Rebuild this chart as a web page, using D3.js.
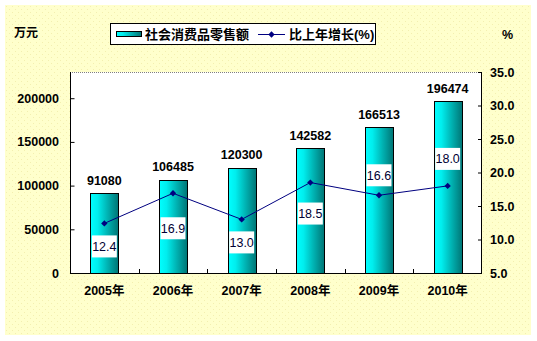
<!DOCTYPE html>
<html>
<head>
<meta charset="utf-8">
<script src="https://cdn.jsdelivr.net/npm/d3@7"></script>
<style>
  html, body { margin: 0; padding: 0; background: #ffffff; }
  svg { display: block; }
  text { font-family: "Liberation Sans", Arial, "Noto Sans CJK SC", sans-serif; }
</style>
</head>
<body>
<svg id="chart" width="537" height="341"></svg>
<script>
// Retail sales of consumer goods (万元) and year-on-year growth (%)
const years = ["2005年", "2006年", "2007年", "2008年", "2009年", "2010年"];
const sales = [91080, 106485, 120300, 142582, 166513, 196474];
const growth = [12.4, 16.9, 13.0, 18.5, 16.6, 18.0];
const leftTicks = [0, 50000, 100000, 150000, 200000];
const rightTicks = [5, 10, 15, 20, 25, 30, 35];
const seriesNames = ["社会消费品零售额", "比上年增长(%)"];
// vertical shift of each growth label box relative to its point
const labelDy = [23, 35, 23, 31, -20, -27];

const svg = d3.select("#chart");
const plot = { left: 70, right: 482, top: 72, bottom: 273 };
const BOLD = "bold";

const defs = svg.append("defs");

// dotted pale-yellow backdrop
const pat = defs.append("pattern").attr("id", "dots")
  .attr("width", 6).attr("height", 6).attr("patternUnits", "userSpaceOnUse");
pat.append("rect").attr("width", 6).attr("height", 6).attr("fill", "#ffffcc");
pat.append("rect").attr("x", 0).attr("y", 0).attr("width", 1).attr("height", 1).attr("fill", "#f3efb0");
pat.append("rect").attr("x", 3).attr("y", 3).attr("width", 1).attr("height", 1).attr("fill", "#f3efb0");

// cyan-to-teal shading of the bars
const grad = defs.append("linearGradient").attr("id", "barFill")
  .attr("x1", "0%").attr("x2", "100%").attr("y1", "0%").attr("y2", "0%");
grad.append("stop").attr("offset", "0%").attr("stop-color", "#00ffff");
grad.append("stop").attr("offset", "25%").attr("stop-color", "#00eeee");
grad.append("stop").attr("offset", "60%").attr("stop-color", "#00b4b4");
grad.append("stop").attr("offset", "100%").attr("stop-color", "#007474");

svg.append("rect").attr("x", 5).attr("y", 5).attr("width", 526).attr("height", 330)
  .attr("fill", "url(#dots)");

// plot area
svg.append("rect").attr("x", plot.left).attr("y", plot.top)
  .attr("width", plot.right - plot.left).attr("height", plot.bottom - plot.top)
  .attr("fill", "#ffffff");
svg.append("line").attr("x1", plot.left).attr("x2", plot.right)
  .attr("y1", plot.top + 0.5).attr("y2", plot.top + 0.5)
  .attr("stroke", "#808080").attr("stroke-width", 1).attr("stroke-dasharray", "1,1");

const x = d3.scaleBand().domain(years).range([plot.left, plot.right]).paddingInner(0.59).paddingOuter(0.295);
const xCenter = d => x(d) + x.bandwidth() / 2;
const yL = d3.scaleLinear().domain([0, 230000]).range([plot.bottom, plot.top]);
const yR = d3.scaleLinear().domain([5, 35]).range([plot.bottom, plot.top]);

// bars
svg.append("g").selectAll("rect").data(sales).join("rect")
  .attr("x", (d, i) => Math.round(x(years[i])) + 0.5)
  .attr("y", d => Math.round(yL(d)) + 0.5)
  .attr("width", Math.round(x.bandwidth()))
  .attr("height", d => Math.round(plot.bottom - yL(d)))
  .attr("fill", "url(#barFill)")
  .attr("stroke", "#000000").attr("stroke-width", 1);

// value labels above the bars
svg.append("g").selectAll("text").data(sales).join("text")
  .attr("x", (d, i) => xCenter(years[i]))
  .attr("y", d => yL(d) - 13)
  .attr("dy", "0.35em")
  .attr("text-anchor", "middle")
  .attr("font-size", 12.5).attr("font-weight", BOLD).attr("fill", "#000")
  .text(d => d);

// left axis
const axL = svg.append("g").attr("transform", `translate(${plot.left},0)`)
  .call(d3.axisLeft(yL).tickValues(leftTicks).tickSizeInner(-4).tickSizeOuter(0).tickPadding(11).tickFormat(d3.format("d")));
axL.select(".domain").attr("stroke", "#000").attr("d", `M0.5,${plot.top}V${plot.bottom}`);
axL.selectAll(".tick line").attr("stroke", "#000").attr("transform", "translate(0.5,0)");
axL.selectAll("text").attr("font-size", 12.5).attr("font-weight", BOLD).attr("fill", "#000")
  .style("font-family", "'Liberation Sans', Arial, sans-serif");

// right axis
const axR = svg.append("g").attr("transform", `translate(${plot.right},0)`)
  .call(d3.axisRight(yR).tickValues(rightTicks).tickSizeInner(-4).tickSizeOuter(0).tickPadding(8).tickFormat(d3.format(".1f")));
axR.select(".domain").attr("stroke", "#000").attr("d", `M-0.5,${plot.top}V${plot.bottom}`);
axR.selectAll(".tick line").attr("stroke", "#000");
axR.selectAll("text").attr("font-size", 12.5).attr("font-weight", BOLD).attr("fill", "#000")
  .style("font-family", "'Liberation Sans', Arial, sans-serif");

// category axis
const axB = svg.append("g").attr("transform", `translate(0,${plot.bottom})`)
  .call(d3.axisBottom(x).tickSize(0).tickPadding(13));
axB.select(".domain").attr("stroke", "#000").attr("d", `M${plot.left},0.5H${plot.right}`);
axB.selectAll("text").attr("font-size", 12.5).attr("font-weight", BOLD).attr("fill", "#000");
// category separators
const step = x.step();
svg.append("g").selectAll("line").data(years.slice(1)).join("line")
  .attr("x1", d => Math.round(x(d) - x.paddingInner() * step / 2) + 0.5)
  .attr("x2", d => Math.round(x(d) - x.paddingInner() * step / 2) + 0.5)
  .attr("y1", plot.bottom).attr("y2", plot.bottom - 4)
  .attr("stroke", "#000");

// growth line
const line = d3.line().x((d, i) => xCenter(years[i])).y(d => yR(d));
svg.append("path").datum(growth).attr("d", line)
  .attr("fill", "none").attr("stroke", "#000080").attr("stroke-width", 1);
// diamond markers: a small square turned 45°
const diamond = d3.symbol().type(d3.symbolSquare).size(20);
svg.append("g").selectAll("path").data(growth).join("path")
  .attr("transform", (d, i) => `translate(${xCenter(years[i])},${yR(d)}) rotate(45)`)
  .attr("d", diamond).attr("fill", "#000080");

// growth labels in white boxes
const gl = svg.append("g").selectAll("g").data(growth).join("g")
  .attr("transform", (d, i) => `translate(${xCenter(years[i])},${yR(d) + labelDy[i]})`);
gl.append("rect").attr("x", -12.5).attr("y", -11).attr("width", 25).attr("height", 22).attr("fill", "#ffffff");
gl.append("text").attr("text-anchor", "middle").attr("dy", "0.36em")
  .attr("font-size", 12.5).attr("fill", "#000033")
  .text(d => d3.format(".1f")(d));

// unit captions
svg.append("text").attr("x", 14).attr("y", 33).attr("dy", "0.35em")
  .attr("font-size", 12).attr("font-weight", BOLD).text("万元");
svg.append("text").attr("x", 502).attr("y", 35).attr("dy", "0.35em")
  .attr("font-size", 12.5).attr("font-weight", BOLD).text("%");

// legend
const lg = svg.append("g");
lg.append("rect").attr("x", 110.5).attr("y", 23.5).attr("width", 265).attr("height", 21)
  .attr("fill", "#ffffff").attr("stroke", "#000").attr("stroke-width", 1);
lg.append("rect").attr("x", 116.5).attr("y", 31.5).attr("width", 25).attr("height", 5)
  .attr("fill", "url(#barFill)").attr("stroke", "#000");
lg.append("text").attr("x", 145).attr("y", 34).attr("dy", "0.36em")
  .attr("font-size", 13).attr("font-weight", BOLD).text(seriesNames[0]);
lg.append("line").attr("x1", 258).attr("x2", 285).attr("y1", 34.5).attr("y2", 34.5)
  .attr("stroke", "#000080");
lg.append("path").attr("transform", "translate(271.5,34.5) rotate(45)").attr("d", diamond).attr("fill", "#000080");
lg.append("text").attr("x", 289).attr("y", 34).attr("dy", "0.36em")
  .attr("font-size", 13).attr("font-weight", BOLD).text(seriesNames[1]);
</script>
</body>
</html>
